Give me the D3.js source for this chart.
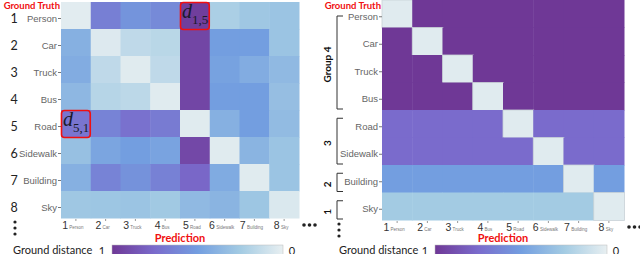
<!DOCTYPE html>
<html>
<head>
<meta charset="utf-8">
<script src="https://cdn.jsdelivr.net/npm/d3@7"></script>
<style>
  html, body { margin: 0; padding: 0; background: #fff; }
  svg { display: block; font-family: Lato, "Liberation Sans", sans-serif; }
</style>
</head>
<body>
<svg id="chart" width="640" height="254"></svg>
<script>
const classes = ["Person", "Car", "Truck", "Bus", "Road", "Sidewalk", "Building", "Sky"];
const classNums = ["1", "2", "3", "4", "5", "6", "7", "8"];

// ground distance learned (left) - rows: ground truth, cols: prediction
const learnedDist = [
  [0.02, 0.65, 0.55, 0.60, 0.97, 0.22, 0.27, 0.29],
  [0.40, 0.04, 0.15, 0.17, 0.93, 0.50, 0.50, 0.29],
  [0.42, 0.15, 0.03, 0.15, 0.93, 0.48, 0.42, 0.35],
  [0.36, 0.18, 0.16, 0.03, 0.93, 0.50, 0.50, 0.32],
  [0.70, 0.63, 0.72, 0.67, 0.03, 0.40, 0.50, 0.34],
  [0.31, 0.46, 0.50, 0.47, 0.92, 0.03, 0.38, 0.29],
  [0.40, 0.63, 0.56, 0.64, 0.77, 0.43, 0.03, 0.29],
  [0.27, 0.28, 0.29, 0.26, 0.35, 0.38, 0.28, 0.05]
];

// ground distance from groups (right)
const groupDist = [
  [0.03, 1, 1, 1, 1, 1, 1, 1],
  [1, 0.03, 1, 1, 1, 1, 1, 1],
  [1, 1, 0.03, 1, 1, 1, 1, 1],
  [1, 1, 1, 0.03, 1, 1, 1, 1],
  [0.75, 0.75, 0.75, 0.75, 0.03, 0.75, 0.75, 0.75],
  [0.75, 0.75, 0.75, 0.75, 0.75, 0.03, 0.75, 0.75],
  [0.5, 0.5, 0.5, 0.5, 0.5, 0.5, 0.03, 0.5],
  [0.25, 0.25, 0.25, 0.25, 0.25, 0.25, 0.25, 0.03]
];

const groups = [
  { label: "Group 4", first: 0, last: 3 },
  { label: "3", first: 4, last: 5 },
  { label: "2", first: 6, last: 6 },
  { label: "1", first: 7, last: 7 }
];

// highlighted cells [row, col, subscript]
const highlights = [[0, 4, "1,5"], [4, 0, "5,1"]];

const cmapDomain = [0, 0.25, 0.5, 0.75, 1];
const cmapColors = ["#e8eff1", "#a3cbe3", "#739ee0", "#7a6bcc", "#6f3896"];
const color = d3.scaleLinear().domain(cmapDomain).range(cmapColors);

const svg = d3.select("#chart");

function drawPanel(opt) {
  const g = svg.append("g");
  const x = d3.scaleBand().domain(d3.range(8)).range([opt.x0, opt.x1]);
  const y = d3.scaleBand().domain(d3.range(8)).range([opt.y0, opt.y1]);

  // cells
  opt.data.forEach((row, i) => {
    g.selectAll(null)
      .data(row)
      .enter().append("rect")
      .attr("x", (d, j) => x(j))
      .attr("y", y(i))
      .attr("width", x.bandwidth() + 0.5)
      .attr("height", y.bandwidth() + 0.5)
      .attr("fill", d => color(d))
      .attr("stroke", (d, j) => (j === i && opt.diagStroke) ? "#c9d2d6" : "none")
      .attr("stroke-width", 0.8);
  });

  // row labels
  const yAxis = g.append("g")
    .attr("transform", `translate(${opt.x0},3)`)
    .call(d3.axisLeft(y).tickSize(3).tickPadding(1).tickFormat(i => classes[i]));
  yAxis.select(".domain").remove();
  yAxis.selectAll("line").attr("stroke", "#777");
  yAxis.selectAll("text").attr("font-size", 9.5).attr("fill", "#666");

  // column labels
  const xAxis = g.append("g")
    .attr("transform", `translate(0,${opt.y1 + 1})`)
    .call(d3.axisBottom(x).tickSize(2).tickPadding(1).tickFormat(""));
  xAxis.select(".domain").remove();
  xAxis.selectAll("line").attr("stroke", "#999");
  xAxis.selectAll(".tick text").each(function (i) {
    const t = d3.select(this).attr("x", -3).attr("fill", "#333");
    t.append("tspan").attr("font-size", 10.5).text(classNums[i]);
    t.append("tspan").attr("font-size", 4.5).attr("fill", "#777").text(" " + classes[i]);
  });

  // titles
  g.append("text")
    .attr("x", opt.x0 - 1).attr("y", 9)
    .attr("text-anchor", "end")
    .attr("font-size", 9.5).attr("font-weight", "bold").attr("fill", "#f01010")
    .text("Ground Truth");
  g.append("text")
    .attr("x", (opt.x0 + opt.x1) / 2).attr("y", 241.5)
    .attr("text-anchor", "middle")
    .attr("font-size", 11).attr("font-weight", "bold").attr("fill", "#f01010")
    .text("Prediction");

  // ellipsis dots
  [0, 1, 2].forEach(k => {
    g.append("circle").attr("cx", opt.x1 + 5 + k * 5.5).attr("cy", opt.y1 + 7).attr("r", 1.8).attr("fill", "#222");
    g.append("circle").attr("cx", opt.vdotX).attr("cy", opt.y1 + 4 + k * 6).attr("r", 1.6).attr("fill", "#222");
  });

  // colorbar
  const gradId = "grad" + opt.id;
  const grad = svg.append("defs").append("linearGradient").attr("id", gradId);
  cmapDomain.slice().reverse().forEach(v => {
    grad.append("stop").attr("offset", (1 - v) * 100 + "%").attr("stop-color", color(v));
  });
  g.append("rect")
    .attr("x", opt.cbX0).attr("y", 245)
    .attr("width", opt.cbX1 - opt.cbX0).attr("height", 14)
    .attr("fill", `url(#${gradId})`)
    .attr("stroke", "#bbb").attr("stroke-width", 0.5);
  g.append("text").attr("x", opt.cbX0 - 10).attr("y", 254.5).attr("text-anchor", "middle")
    .attr("font-size", 11).attr("fill", "#222").text("1");
  g.append("text").attr("x", opt.cbX1 + 9).attr("y", 254.5).attr("text-anchor", "middle")
    .attr("font-size", 11).attr("fill", "#222").text("0");
  g.append("text").attr("x", opt.gdX).attr("y", 254)
    .attr("font-size", 11).attr("fill", "#222").text("Ground distance");

  return { g, x, y };
}

// left panel
const left = drawPanel({
  id: "L", data: learnedDist, x0: 61, x1: 299, y0: 2, y1: 218,
  vdotX: 15, cbX0: 112, cbX1: 283, gdX: 13, diagStroke: false
});

// row numbers
left.g.selectAll(".num")
  .data(classNums)
  .enter().append("text")
  .attr("x", 14)
  .attr("y", (d, i) => left.y(i) + left.y.bandwidth() / 2 + 7)
  .attr("text-anchor", "middle")
  .attr("font-size", 12.5).attr("fill", "#222")
  .text(d => d);

// highlighted distance cells
highlights.forEach(([r, c, sub]) => {
  const bx = left.x(c), by = left.y(r);
  left.g.append("rect")
    .attr("x", bx + 0.5).attr("y", by + 0.5)
    .attr("width", left.x.bandwidth() - 1).attr("height", left.y.bandwidth())
    .attr("rx", 3)
    .attr("fill", "none").attr("stroke", "#f01010").attr("stroke-width", 1.6);
  const t = left.g.append("text")
    .attr("x", bx + 2).attr("y", by + 16)
    .attr("font-family", "Liberation Serif, serif")
    .attr("fill", "#1a1a2a");
  t.append("tspan").attr("font-size", 20).attr("font-style", "italic").text("d");
  t.append("tspan").attr("font-size", 13).attr("dy", 6).text(sub);
});

// right panel
const right = drawPanel({
  id: "R", data: groupDist, x0: 382, x1: 624, y0: 0, y1: 220,
  vdotX: 339, cbX0: 435, cbX1: 607, gdX: 339, diagStroke: true
});

// group brackets
groups.forEach(gr => {
  const top = right.y(gr.first) + (gr.first === 0 ? 16 : right.y.bandwidth() * 0.3);
  const bot = right.y(gr.last) + right.y.bandwidth() - 1;
  right.g.append("path")
    .attr("d", `M343,${top}H337V${bot}H343`)
    .attr("fill", "none").attr("stroke", "#333").attr("stroke-width", 1);
  right.g.append("text")
    .attr("transform", `translate(331,${(top + bot) / 2 + 2}) rotate(-90)`)
    .attr("text-anchor", "middle")
    .attr("font-size", 10).attr("font-weight", "bold").attr("fill", "#111")
    .text(gr.label);
});
</script>
</body>
</html>
